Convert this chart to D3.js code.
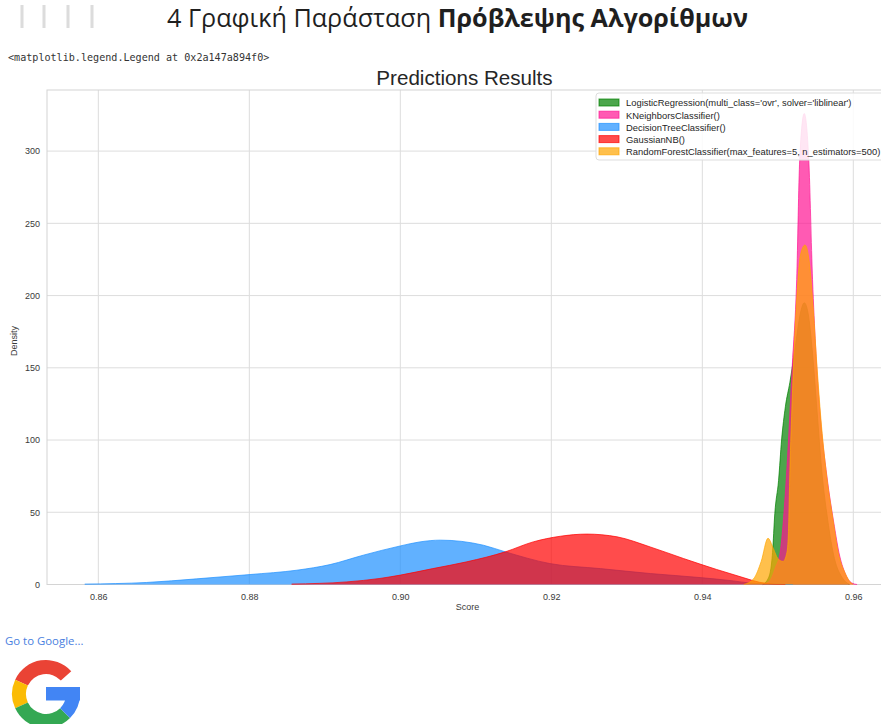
<!DOCTYPE html>
<html>
<head>
<meta charset="utf-8">
<script src="https://cdn.jsdelivr.net/npm/d3@7"></script>
<style>
  html, body { margin: 0; padding: 0; background: #fff; }
  svg { display: block; }
</style>
</head>
<body>
<svg id="page" width="881" height="724"></svg>
<script>
// Model labels, in plotting order
const modelNames = [
  "LogisticRegression(multi_class='ovr', solver='liblinear')",
  "KNeighborsClassifier()",
  "DecisionTreeClassifier()",
  "GaussianNB()",
  "RandomForestClassifier(max_features=5, n_estimators=500)"
];

// Density curves: [score, density]
const logisticCurve = [
  [0.9480, 0], [0.9488, 5], [0.9493, 22], [0.9496, 49], [0.9501, 72],
  [0.9505, 100], [0.9510, 123], [0.9516, 140], [0.9523, 164], [0.9530, 188],
  [0.9535, 195], [0.9540, 188], [0.9546, 160], [0.9552, 120], [0.9558, 80],
  [0.9566, 45], [0.9575, 18], [0.9585, 5], [0.9595, 0]
];
const knnCurve = [
  [0.9480, 0], [0.9490, 3], [0.9497, 12], [0.9503, 22], [0.9512, 80],
  [0.9519, 150], [0.9525, 211], [0.9529, 294], [0.9535, 326], [0.9541, 294],
  [0.9546, 211], [0.9550, 165], [0.9556, 118], [0.9565, 75], [0.9575, 40],
  [0.9581, 22], [0.9589, 8], [0.9598, 1], [0.9605, 0]
];
const treeCurve = [
  [0.8582, 0.3], [0.8664, 1.4], [0.8730, 3.9], [0.8801, 6.9], [0.8863, 9.9],
  [0.8907, 13.8], [0.8951, 20.3], [0.9000, 26.7], [0.9026, 29.5], [0.9053, 30.7],
  [0.9110, 27.2], [0.9139, 22.6], [0.9198, 14.5], [0.9265, 11.0], [0.9331, 7.6],
  [0.9397, 4.8], [0.9441, 2.5], [0.9463, 1.0], [0.9490, 0.3], [0.9520, 0]
];
const gaussianCurve = [
  [0.8856, 0.3], [0.8929, 1.8], [0.8973, 4.2], [0.9000, 6.5], [0.9043, 11.0],
  [0.9088, 15.7], [0.9139, 22.6], [0.9176, 29.5], [0.9212, 33.4], [0.9247, 34.9],
  [0.9287, 33.0], [0.9331, 26.0], [0.9375, 18.0], [0.9419, 10.4], [0.9454, 4.8],
  [0.9476, 1.5], [0.9496, 0.3], [0.9510, 0]
];
const forestCurve = [
  [0.9455, 0], [0.9468, 4], [0.9478, 16], [0.9487, 32], [0.9494, 25],
  [0.9500, 18], [0.9507, 16], [0.9512, 22], [0.9514, 35], [0.9516, 79],
  [0.9519, 127], [0.9525, 197], [0.9530, 228], [0.9536, 235], [0.9542, 222],
  [0.9547, 190], [0.9552, 150], [0.9557, 115], [0.9564, 78], [0.9573, 45],
  [0.9580, 22], [0.9589, 8], [0.9597, 1], [0.9600, 0]
];

const xTicks = [0.86, 0.88, 0.90, 0.92, 0.94, 0.96];
const yTicks = [0, 50, 100, 150, 200, 250, 300];

const curves = [logisticCurve, knnCurve, treeCurve, gaussianCurve, forestCurve];
const palette = ["#008000", "#ff1493", "#1e90ff", "#ff0000", "#ffa500"];

const svg = d3.select("#page");

// ---- notebook header ----
const header = svg.append("g");
[22, 44, 68, 92].forEach(xp => {
  header.append("rect").attr("x", xp - 1.5).attr("y", 5).attr("width", 3).attr("height", 23)
    .attr("fill", "#dcdcdc");
});
const h = header.append("text")
  .attr("x", 167).attr("y", 27)
  .style("font-family", "'Open Sans', 'Noto Sans', sans-serif")
  .style("font-size", "25.2px").attr("fill", "#1f1f1f");
h.append("tspan").text("4 Γραφική Παράσταση ");
h.append("tspan").attr("font-weight", "bold").text("Πρόβλεψης Αλγορίθμων");

svg.append("text")
  .attr("x", 8).attr("y", 61)
  .style("font-family", "'DejaVu Sans Mono', 'Liberation Mono', monospace")
  .style("font-size", "10.1px").attr("fill", "#333")
  .text("<matplotlib.legend.Legend at 0x2a147a894f0>");

// ---- chart ----
const plot = { left: 47, right: 882, top: 90, bottom: 584.5 };
const x = d3.scaleLinear().domain([0.8532, 0.9638]).range([plot.left, plot.right]);
const y = d3.scaleLinear().domain([0, 342.3]).range([plot.bottom, plot.top]);

const chart = svg.append("g");
const font = "'Liberation Sans', Arial, sans-serif";

// grid
const gridColor = "#dddddd";
chart.append("g").selectAll("line").data(xTicks).join("line")
  .attr("x1", d => x(d)).attr("x2", d => x(d))
  .attr("y1", plot.top).attr("y2", plot.bottom)
  .attr("stroke", gridColor).attr("stroke-width", 1);
chart.append("g").selectAll("line").data(yTicks).join("line")
  .attr("x1", plot.left).attr("x2", plot.right)
  .attr("y1", d => y(d)).attr("y2", d => y(d))
  .attr("stroke", gridColor).attr("stroke-width", 1);

// frame
chart.append("rect")
  .attr("x", plot.left).attr("y", plot.top)
  .attr("width", plot.right - plot.left).attr("height", plot.bottom - plot.top)
  .attr("fill", "none").attr("stroke", "#d4d4d4").attr("stroke-width", 1);

// axes via d3 axis generators (labels only, lines hidden)
const xAxis = chart.append("g").attr("transform", `translate(0,${plot.bottom})`)
  .call(d3.axisBottom(x).tickValues(xTicks).tickFormat(d3.format(".2f")).tickSize(0).tickPadding(9));
const yAxis = chart.append("g").attr("transform", `translate(${plot.left},0)`)
  .call(d3.axisLeft(y).tickValues(yTicks).tickFormat(d3.format("d")).tickSize(0).tickPadding(7));
[xAxis, yAxis].forEach(a => {
  a.select(".domain").remove();
  a.selectAll("text").style("font-family", font).style("font-size", "9px").attr("fill", "#3a3a3a");
});

// density areas
const area = d3.area()
  .x(d => x(d[0])).y0(y(0)).y1(d => y(d[1]))
  .curve(d3.curveMonotoneX);
const line = d3.line()
  .x(d => x(d[0])).y(d => y(d[1]))
  .curve(d3.curveMonotoneX);

const marks = chart.append("g");
curves.forEach((c, i) => {
  marks.append("path").attr("d", area(c))
    .attr("fill", palette[i]).attr("fill-opacity", 0.7);
  marks.append("path").attr("d", line(c))
    .attr("fill", "none").attr("stroke", palette[i]).attr("stroke-width", 1).attr("stroke-opacity", 0.7);
});

// titles
chart.append("text")
  .attr("x", (plot.left + plot.right) / 2).attr("y", 85)
  .attr("text-anchor", "middle")
  .style("font-family", font).style("font-size", "20.6px").attr("fill", "#262626")
  .text("Predictions Results");
chart.append("text")
  .attr("x", (plot.left + plot.right) / 2 + 3).attr("y", 610)
  .attr("text-anchor", "middle")
  .style("font-family", font).style("font-size", "9px").attr("fill", "#3a3a3a")
  .text("Score");
chart.append("text")
  .attr("transform", "translate(17,341) rotate(-90)")
  .attr("text-anchor", "middle")
  .style("font-family", font).style("font-size", "9px").attr("fill", "#3a3a3a")
  .text("Density");

// legend
const legend = chart.append("g").attr("transform", "translate(596,93)");
legend.append("rect")
  .attr("x", 0).attr("y", 0).attr("width", 300).attr("height", 67).attr("rx", 3)
  .attr("fill", "#fff").attr("fill-opacity", 0.85).attr("stroke", "#dddddd");
modelNames.forEach((name, i) => {
  const row = legend.append("g").attr("transform", `translate(0,${10 + i * 12.2})`);
  row.append("rect").attr("x", 3).attr("y", -4).attr("width", 20).attr("height", 7)
    .attr("fill", palette[i]).attr("fill-opacity", 0.7)
    .attr("stroke", palette[i]).attr("stroke-opacity", 0.7);
  row.append("text").attr("x", 30).attr("y", 3.3)
    .style("font-family", font).style("font-size", "9.4px").attr("fill", "#262626")
    .text(name);
});

// ---- link and logo ----
svg.append("text")
  .attr("x", 5).attr("y", 645)
  .style("font-family", "'Open Sans', 'Noto Sans', sans-serif")
  .style("font-size", "11.4px").attr("fill", "#4a80e0")
  .text("Go to Google...");

const g = svg.append("g").attr("transform", "translate(46,694)");
const rad = Math.PI / 180;
const ring = d3.arc().innerRadius(20).outerRadius(34);
[
  { a0: -65, a1: 48, c: "#ea4335" },
  { a0: -115, a1: -65, c: "#fbbc05" },
  { a0: 135, a1: 245, c: "#34a853" },
  { a0: 90, a1: 135, c: "#4285f4" }
].forEach(s => {
  g.append("path").attr("d", ring({ startAngle: s.a0 * rad, endAngle: s.a1 * rad })).attr("fill", s.c);
});
g.append("rect").attr("x", 0).attr("y", -7).attr("width", 34).attr("height", 13.5).attr("fill", "#4285f4");
</script>
</body>
</html>
